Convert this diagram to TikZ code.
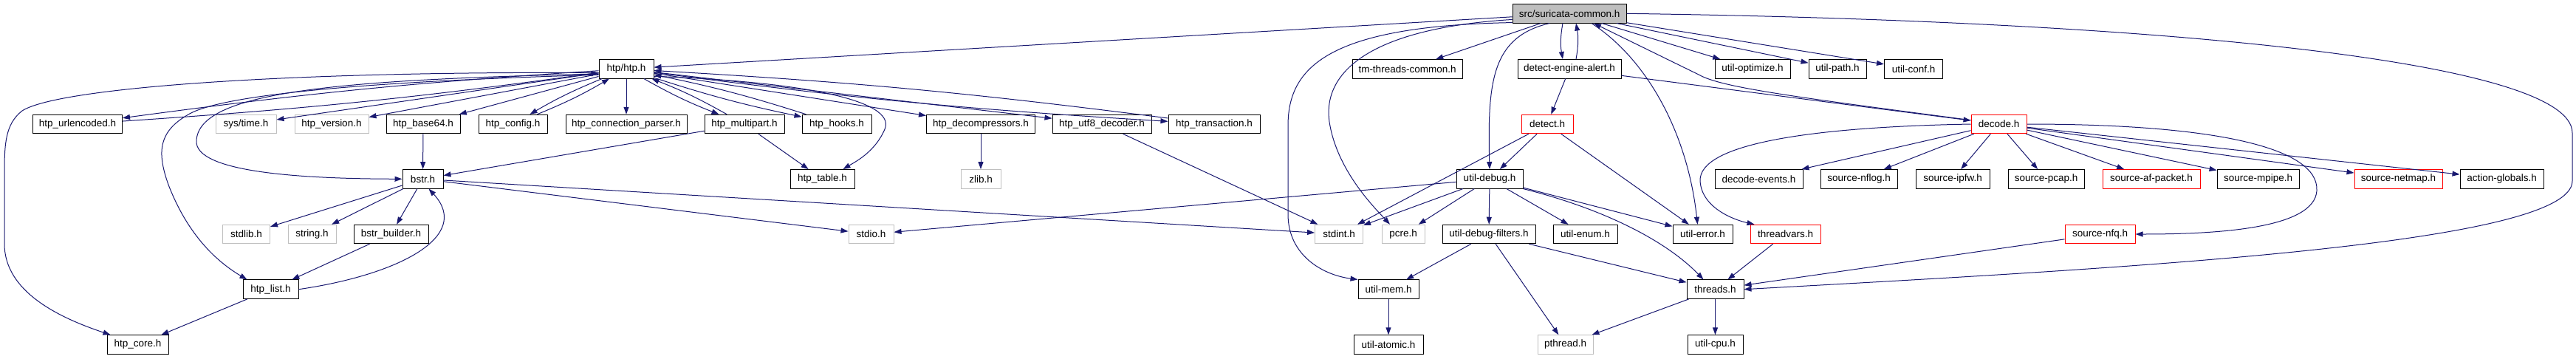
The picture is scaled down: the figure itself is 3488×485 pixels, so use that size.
\documentclass[tikz,border=0pt]{standalone}
\usepackage{fontspec}
\setmainfont{Liberation Sans}
\usetikzlibrary{arrows.meta}
\definecolor{edgeblue}{RGB}{25,25,112}
\definecolor{graybox}{RGB}{191,191,191}

\begin{document}
\begin{tikzpicture}[x=1pt, y=-1pt,
    every node/.style={rectangle, draw, line width=1pt, fill=white, minimum height=25.5pt, inner sep=0pt, font=\fontsize{13.5}{16}\selectfont},
    sysinc/.style={draw=graybox},
    trunc/.style={draw=red},
    root/.style={fill=graybox},
    dep/.style={draw=edgeblue, line width=1pt, -{Triangle[length=10pt,width=7pt]}}]
    \useasboundingbox (0,0) rectangle (3488,485);

    % row 0
    \node[root, minimum width=154pt] (sc) at (2125,18.3) {src/suricata-common.h};

    % row 1
    \node[minimum width=74pt]  (htp)   at (848,93.3)    {htp/htp.h};
    \node[minimum width=149pt] (tmtc)  at (1905.5,93.3) {tm-threads-common.h};
    \node[minimum width=140pt] (dea)   at (2125,93.3)   {detect-engine-alert.h};
    \node[minimum width=102pt] (uopt)  at (2373,93.3)   {util-optimize.h};
    \node[minimum width=78pt]  (upath) at (2488,93.3)   {util-path.h};
    \node[minimum width=79pt]  (uconf) at (2591,93.3)   {util-conf.h};

    % row 2
    \node[minimum width=121pt]         (urlenc)   at (105,168)    {htp\_urlencoded.h};
    \node[sysinc, minimum width=82pt]  (systime)  at (333,168)    {sys/time.h};
    \node[sysinc, minimum width=100pt] (hversion) at (449,168)    {htp\_version.h};
    \node[minimum width=100pt]         (b64)      at (573,168)    {htp\_base64.h};
    \node[minimum width=93pt]          (hcfg)     at (694.5,168)  {htp\_config.h};
    \node[minimum width=164pt]         (connp)    at (848,168)    {htp\_connection\_parser.h};
    \node[minimum width=108pt]         (mpart)    at (1008,168)   {htp\_multipart.h};
    \node[minimum width=94pt]          (hooks)    at (1133,168)   {htp\_hooks.h};
    \node[minimum width=147pt]         (decomp)   at (1328,168)   {htp\_decompressors.h};
    \node[minimum width=134pt]         (utf8)     at (1492,168)   {htp\_utf8\_decoder.h};
    \node[minimum width=124pt]         (htx)      at (1644,168)   {htp\_transaction.h};
    \node[trunc, minimum width=70pt]   (detect)   at (2095,168)   {detect.h};
    \node[trunc, minimum width=75pt]   (decode)   at (2706.5,168) {decode.h};

    % row 3
    \node[minimum width=55pt]          (bstr)     at (572.5,242.3)  {bstr.h};
    \node[minimum width=87pt]          (htable)   at (1113.5,242.3) {htp\_table.h};
    \node[sysinc, minimum width=54pt]  (zlib)     at (1328,242.3)   {zlib.h};
    \node[minimum width=90pt]          (udebug)   at (2017,242.3)   {util-debug.h};
    \node[minimum width=119pt]         (devents)  at (2381.5,242.3) {decode-events.h};
    \node[minimum width=104pt]         (nflog)    at (2517,242.3)   {source-nflog.h};
    \node[minimum width=100pt]         (ipfw)     at (2644,242.3)   {source-ipfw.h};
    \node[minimum width=103pt]         (pcap)     at (2770.5,242.3) {source-pcap.h};
    \node[trunc, minimum width=132pt]  (afpacket) at (2913,242.3)   {source-af-packet.h};
    \node[minimum width=111pt]         (mpipe)    at (3057.5,242.3) {source-mpipe.h};
    \node[trunc, minimum width=119pt]  (netmap)   at (3247.5,242.3) {source-netmap.h};
    \node[minimum width=113pt]         (aglobals) at (3387.5,242.3) {action-globals.h};

    % row 4
    \node[sysinc, minimum width=64pt]  (stdlib)   at (333.5,317)  {stdlib.h};
    \node[sysinc, minimum width=65pt]  (string)   at (422.5,317)  {string.h};
    \node[minimum width=101pt]         (bbuild)   at (529.5,317)  {bstr\_builder.h};
    \node[sysinc, minimum width=61pt]  (stdio)    at (1179.5,317) {stdio.h};
    \node[sysinc, minimum width=65pt]  (stdint)   at (1813,317)   {stdint.h};
    \node[sysinc, minimum width=58pt]  (pcre)     at (1900,317)   {pcre.h};
    \node[minimum width=126pt]         (udfilt)   at (2016,317)   {util-debug-filters.h};
    \node[minimum width=87pt]          (uenum)    at (2146.5,317) {util-enum.h};
    \node[minimum width=81pt]          (uerror)   at (2305.5,317) {util-error.h};
    \node[trunc, minimum width=95pt]   (tvars)    at (2417.5,317) {threadvars.h};
    \node[trunc, minimum width=95pt]   (nfq)      at (2843.5,317) {source-nfq.h};

    % row 5
    \node[minimum width=75pt] (hlist)   at (366.5,391.7)  {htp\_list.h};
    \node[minimum width=82pt] (umem)    at (1880,391.7)   {util-mem.h};
    \node[minimum width=77pt] (threads) at (2322.5,391.7) {threads.h};

    % row 6
    \node[minimum width=83pt]         (hcore)   at (186.5,466.5)  {htp\_core.h};
    \node[minimum width=94pt]         (uatomic) at (1880,466.5)   {util-atomic.h};
    \node[sysinc, minimum width=75pt] (pthread) at (2119.5,466.5) {pthread.h};
    \node[minimum width=75pt]         (ucpu)    at (2322.5,466.5) {util-cpu.h};

    % libhtp part
    \draw[dep] (htp) to[bend right=2] (urlenc);
    \draw[dep] (urlenc) to[bend right=2] (htp);
    \draw[dep] (htp) -- (systime);
    \draw[dep] (htp) -- (hversion);
    \draw[dep] (htp) -- (b64);
    \draw[dep] (htp) to[bend right=4] (hcfg);
    \draw[dep] (hcfg) to[bend right=4] (htp);
    \draw[dep] (htp) -- (connp);
    \draw[dep] (htp) to[bend right=4] (mpart);
    \draw[dep] (mpart) to[bend right=4] (htp);
    \draw[dep] (htp) to[bend right=3] (hooks);
    \draw[dep] (hooks) to[bend right=3] (htp);
    \draw[dep] (htp) -- (decomp);
    \draw[dep] (htp) -- (utf8);
    \draw[dep] (htp) to[bend right=2] (htx);
    \draw[dep] (htx) to[bend right=2] (htp);
    \draw[dep] (htp.190) .. controls (450,108) and (270,125) .. (266,190) .. controls (262,235) and (420,242) .. (bstr.west);
    \draw[dep] (htp.192) .. controls (500,110) and (300,128) .. (255,155) .. controls (215,178) and (212,205) .. (228,250) .. controls (255,320) and (295,355) .. ([xshift=6pt]hlist.north west);
    \draw[dep] (htp.188) .. controls (400,96) and (80,118) .. (30,150) .. controls (7,168) and (6,195) .. (6,235) -- (6,330) .. controls (6,395) and (80,430) .. ([xshift=5pt]hcore.north west);
    \draw[dep] (htp.-15) .. controls (1080,110) and (1215,135) .. (1198,175) .. controls (1185,205) and (1160,218) .. ([xshift=-16pt]htable.north east);
    \draw[dep] (b64) -- (bstr);
    \draw[dep] (mpart) -- (bstr);
    \draw[dep] (mpart) -- (htable);
    \draw[dep] (decomp) -- (zlib);
    \draw[dep] (utf8) -- (stdint);
    \draw[dep] (bstr) -- (stdlib);
    \draw[dep] (bstr) -- (string);
    \draw[dep] (bstr) -- (bbuild);
    \draw[dep] (bstr) -- (stdio);
    \draw[dep] (bstr) -- (stdint);
    \draw[dep] (bbuild) -- (hlist);
    \draw[dep] (hlist.east) .. controls (540,372) and (640,320) .. ([xshift=8pt]bstr.south);
    \draw[dep] (hlist) -- (hcore);

    % suricata part
    \draw[dep] (sc) -- (htp);
    \draw[dep] (sc) -- (tmtc);
    \draw[dep] ([xshift=-9pt]sc.south) to[bend right=10] ([xshift=-9pt]dea.north);
    \draw[dep] ([xshift=9pt]dea.north) to[bend right=10] ([xshift=9pt]sc.south);
    \draw[dep] (sc) -- (uopt);
    \draw[dep] (sc) -- (upath);
    \draw[dep] (sc) -- (uconf);
    \draw[dep] ([xshift=-27pt]sc.south) .. controls (2020,50) and (2014,110) .. (udebug.north);
    \draw[dep] (sc.186) .. controls (1860,38) and (1790,95) .. (1800,165) .. controls (1810,230) and (1860,280) .. ([xshift=-18pt]pcre.north);
    \draw[dep] (sc.189) .. controls (1800,35) and (1744,90) .. (1744,170) -- (1744,290) .. controls (1744,345) and (1790,372) .. (umem.north west);
    \draw[dep] ([xshift=30pt]sc.south) .. controls (2230,80) and (2285,180) .. ([xshift=-7pt]uerror.north);
    \draw[dep] (sc.east) .. controls (2900,28) and (3483,80) .. (3483,180) -- (3483,245) .. controls (3483,330) and (2900,362) .. (threads.east);
    \draw[dep] (decode.172) .. controls (2420,130) and (2330,118) .. (2300,101) -- ([xshift=33pt]sc.south);
    \draw[dep] (dea) -- (detect);
    \draw[dep] (dea) -- (decode);
    \draw[dep] (detect) -- (stdint);
    \draw[dep] (detect) -- (udebug);
    \draw[dep] (detect) -- (uerror);
    \draw[dep] (udebug) -- (stdio);
    \draw[dep] (udebug) -- (stdint);
    \draw[dep] (udebug) -- (pcre);
    \draw[dep] (udebug) -- (udfilt);
    \draw[dep] (udebug) -- (uenum);
    \draw[dep] (udebug) -- (uerror);
    \draw[dep] (udebug.south east) .. controls (2180,285) and (2260,330) .. ([xshift=-16pt]threads.north);
    \draw[dep] (udfilt) -- (umem);
    \draw[dep] (udfilt) -- (pthread);
    \draw[dep] (udfilt) -- (threads);
    \draw[dep] (umem) -- (uatomic);
    \draw[dep] (threads) -- (pthread);
    \draw[dep] (threads) -- (ucpu);
    \draw[dep] (tvars) -- (threads);
    \draw[dep] (nfq) -- (threads);
    \draw[dep] (decode) -- (devents);
    \draw[dep] (decode) -- (nflog);
    \draw[dep] (decode) -- (ipfw);
    \draw[dep] (decode) -- (pcap);
    \draw[dep] (decode) -- (afpacket);
    \draw[dep] (decode) -- (mpipe);
    \draw[dep] (decode) -- (netmap);
    \draw[dep] (decode) -- (aglobals);
    \draw[dep] (decode.west) .. controls (2450,172) and (2300,195) .. (2302,245) .. controls (2304,280) and (2345,297) .. ([xshift=6pt]tvars.north west);
    \draw[dep] (decode.east) .. controls (3000,168) and (3140,200) .. (3137,258) .. controls (3134,310) and (3000,317) .. (nfq.east);

    \end{tikzpicture}
\end{document}
